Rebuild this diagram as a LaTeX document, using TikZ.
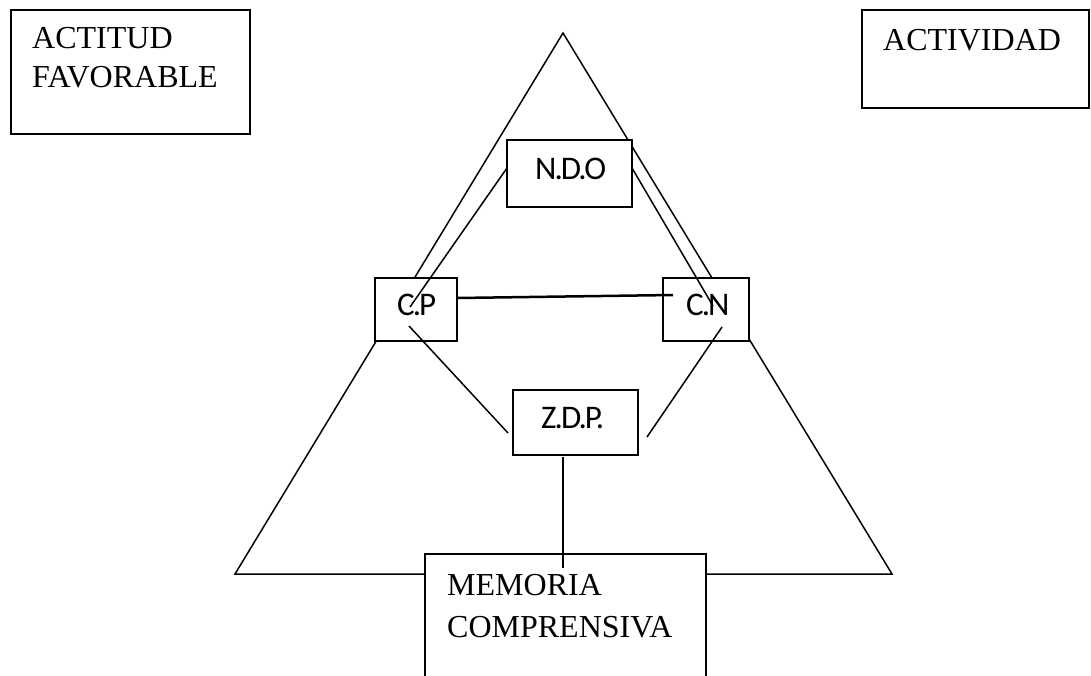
\documentclass[tikz,border=0pt]{standalone}
\usepackage{fontspec}
\setmainfont{Liberation Serif}
\newfontfamily\boxsans[LetterSpace=-6]{Carlito}
\begin{document}
\begin{tikzpicture}[x=1pt,y=-1pt,
  ln/.style={line width=1.5pt,line join=miter},
  bx/.style={draw,line width=1.5pt,fill=white},
  serift/.style={font=\fontsize{32}{40}\selectfont,anchor=base west,inner sep=0pt,align=left},
  sanst/.style={font=\boxsans\fontsize{33}{38}\selectfont,anchor=base west,inner sep=0pt}]
\useasboundingbox (0,0) rectangle (1091,675);
% triangle
\coordinate (apex) at (563,33);
\coordinate (bl) at (235,574);
\coordinate (br) at (892,574);
\draw[ln] (bl) -- (apex) -- (br) -- cycle;
% corner boxes
\draw[line width=1.5pt] (11,10) rectangle (250,134);
\node[serift] (aft) at (32,48) {ACTITUD};
\node[serift] (aft2) at (32,87) {FAVORABLE};
\draw[line width=1.5pt] (862,10) rectangle (1089,108);
\node[serift] (act) at (883,50) {ACTIVIDAD};
% memoria box (open at bottom)
\fill[white] (425,554) rectangle (706,675);
\draw[line width=1.5pt] (425,676) -- (425,554) -- (706,554) -- (706,676);
\node[serift] (mem) at (447,595) {MEMORIA};
\node[serift] (comp) at (447,637) {COMPRENSIVA};
% inner boxes
\draw[bx] (507,140) rectangle (632,207);
\coordinate (ndoL) at (507,168);
\coordinate (ndoR) at (632,168);
\node[sanst] (ndo) at (535,179) {N.D.O};
\draw[bx] (375,278) rectangle (457,341);
\node[sanst] (cp) at (397,315) {C.P};
\draw[bx] (663,278) rectangle (749,341);
\node[sanst] (cn) at (686,315) {C.N};
\draw[bx] (513,390) rectangle (638,455);
\node[sanst] (zdp) at (541,428) {Z.D.P.};
% connectors
\coordinate (cpIn) at (410,307);
\coordinate (cnIn) at (713,306);
\draw[ln] (ndoL) -- (cpIn);
\draw[ln] (ndoR) -- (cnIn);
\coordinate (cpR) at (457,298);
\coordinate (cnH) at (673,295);
\draw[line width=2.5pt] (cpR) -- (cnH);
\coordinate (cpB) at (409,326);
\coordinate (zdpL) at (508,433);
\draw[ln] (cpB) -- (zdpL);
\coordinate (cnB) at (722,327);
\coordinate (zdpR) at (647,437);
\draw[ln] (cnB) -- (zdpR);
\coordinate (zdpB) at (563,457);
\coordinate (memIn) at (563,568);
\draw[ln] (zdpB) -- (memIn);
\end{tikzpicture}
\end{document}
